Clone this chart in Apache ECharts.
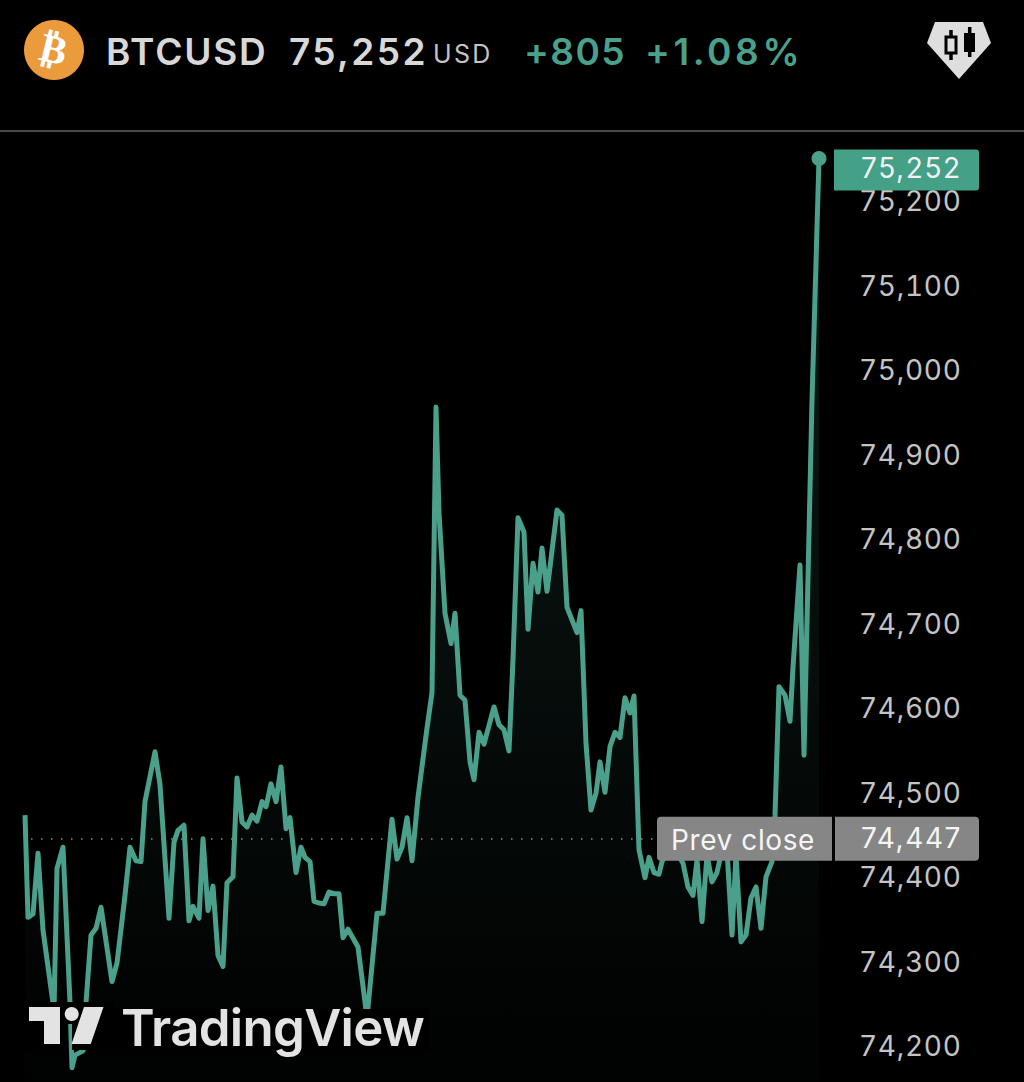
<!DOCTYPE html>
<html>
<head>
<meta charset="utf-8">
<style>html,body{margin:0;padding:0;background:#000}#c{width:1024px;height:1082px}#c svg text{letter-spacing:0.7px;font-feature-settings:"tnum" 1;font-variant-numeric:tabular-nums}</style>
<script src="https://cdn.jsdelivr.net/npm/echarts@6/dist/echarts.min.js"></script>
</head>
<body>
<div id="c"></div>
<script>
const symbol = 'BTCUSD';
const lastPrice = 75252;
const prevClose = 74447;
const lastText = '75,252';
const prevText = '74,447';
const changeAbs = '+805';
const changePct = '+1.08%';
const elapsed = [0,3,8,13,18,29,32,38,45,47,50,58,61,66,71,76,87,92,100,105,111,116,120,130,135,144,149,153,159,164,168,174,178,183,188,193,198,202,208,212,217,222,227,232,237,241,246,251,256,261,265,271,276,280,285,289,294,299,304,309,314,318,323,333,342,352,358,367,372,377,382,387,393,402,407,411,414,420,426,430,435,440,445,449,454,459,469,474,479,484,488,493,499,503,508,513,517,522,532,537,542,552,556,561,566,571,575,580,585,590,595,600,605,609,614,620,624,629,634,637,647,658,663,668,672,677,682,687,692,697,702,707,711,716,721,726,731,736,741,747,750,754,760,765,768,775,779,787,794];
const prices = [74475,74354,74358,74430,74339,74244,74412,74437,74253,74176,74191,74196,74253,74333,74341,74366,74278,74300,74380,74437,74421,74420,74491,74550,74511,74353,74443,74457,74463,74350,74367,74353,74447,74362,74391,74309,74296,74395,74402,74519,74467,74461,74475,74468,74491,74485,74512,74491,74532,74459,74472,74407,74437,74425,74420,74373,74371,74370,74384,74382,74382,74330,74340,74319,74235,74359,74359,74470,74423,74437,74472,74421,74496,74578,74620,74958,74833,74714,74678,74714,74617,74611,74538,74517,74573,74559,74603,74582,74576,74551,74659,74827,74810,74695,74773,74739,74791,74740,74836,74830,74721,74691,74717,74560,74481,74501,74538,74502,74556,74573,74567,74614,74596,74616,74434,74401,74425,74407,74405,74420,74443,74418,74390,74380,74422,74349,74428,74396,74407,74434,74434,74333,74428,74325,74333,74377,74390,74341,74402,74420,74475,74627,74617,74586,74650,74771,74546,74966,75252];

const UP = '#4aa08b';
const FONT = 'Inter, "Noto Sans", sans-serif';
const chart = echarts.init(document.getElementById('c'), null, {renderer:'svg', width:1024, height:1082});

chart.setOption({
  backgroundColor:'#000',
  animation:false,
  grid:{left:25, right:205, top:118, bottom:-50, outerBoundsMode:'none', containLabel:false},
  xAxis:{type:'value', min:0, max:794, show:false},
  yAxis:{
    type:'value', position:'right', min:74100, max:75300, interval:100,
    axisLine:{show:false}, axisTick:{show:false}, splitLine:{show:false},
    axisLabel:{
      show:true, showMaxLabel:false, showMinLabel:false, inside:false, margin:40, align:'left',
      color:'#c4c4c4', fontFamily:FONT, fontSize:28, fontWeight:400,
      formatter:v=>v.toLocaleString('en-US')
    }
  },
  series:[{
    type:'line',
    data:elapsed.map((t,i)=>[t,prices[i]]),
    showSymbol:false, symbol:'none', clip:false, smooth:false,
    lineStyle:{color:UP, width:5, join:'round'},
    areaStyle:{color:new echarts.graphic.LinearGradient(0,0,0,1,[
      {offset:0,color:'rgba(74,160,139,0.24)'},
      {offset:1,color:'rgba(74,160,139,0)'}
    ])},
    markLine:{
      silent:true, symbol:'none', z:1, animation:false, label:{show:false},
      lineStyle:{type:[1.5,8.5], color:'#8a8a8a', width:1.5},
      data:[[{coord:[6,prevClose]},{coord:[632,prevClose]}]]
    },
    markPoint:{
      silent:true, symbol:'circle', symbolSize:15, animation:false,
      itemStyle:{color:UP}, label:{show:false},
      data:[{coord:[794,lastPrice]}]
    }
  }]
});

const yLast = chart.convertToPixel({yAxisIndex:0}, lastPrice);
const yPrev = chart.convertToPixel({yAxisIndex:0}, prevClose);

const txt = (x,y,text,size,color,weight) => ({
  type:'text', x, y, z:110,
  style:{text, fill:color, font:`${weight} ${size}px ${FONT}`, textAlign:'left', textVerticalAlign:'middle'}
});
const black = (x,y,w,h)=>({type:'rect', z:100, shape:{x,y,width:w,height:h}, style:{fill:'#000'}});
const LOGO = '#e3e3e3';

chart.setOption({graphic:{elements:[
  {type:'line', z:100, shape:{x1:0,y1:131,x2:1024,y2:131}, style:{stroke:'#4a4a4a', lineWidth:2}},
  {type:'circle', z:100, shape:{cx:54,cy:50,r:30}, style:{fill:'#ec9b3c'}},
  {type:'text', z:110, x:54, y:49, rotation:-0.24,
    style:{text:'\u20bf', fill:'#fff', font:'bold 40px "DejaVu Sans"', textAlign:'center', textVerticalAlign:'middle'}},
  txt(106,51,symbol,37,'#d8d8d8',600),
  txt(289,51,lastText,37,'#d8d8d8',600),
  txt(433,54,'USD',25,'#c4c4c4',400),
  txt(524,51,changeAbs,37,UP,600),
  txt(645,51,changePct,37,UP,600),
  {type:'polygon', z:100, shape:{points:[[935,22],[983,22],[991,43],[959,79],[927,43]]}, style:{fill:'#dedede'}},
  {type:'line', z:101, shape:{x1:951,y1:30,x2:951,y2:60}, style:{stroke:'#000',lineWidth:3.5}},
  {type:'rect', z:102, shape:{x:946,y:37,width:10,height:16}, style:{fill:'#dedede',stroke:'#000',lineWidth:3}},
  {type:'line', z:101, shape:{x1:969.7,y1:27,x2:969.7,y2:57}, style:{stroke:'#000',lineWidth:3.5}},
  {type:'rect', z:102, shape:{x:964,y:33,width:11,height:19}, style:{fill:'#000'}},
  {type:'rect', z:100, shape:{x:834,y:yLast-9,width:145,height:41,r:[0,3,3,0]}, style:{fill:'#44a086'}},
  txt(861,yLast+9.5,lastText,28,'#f2f2f2',400),
  {type:'rect', z:100, shape:{x:657,y:yPrev-22,width:175,height:44,r:[4,0,0,4]}, style:{fill:'#868686'}},
  {type:'rect', z:100, shape:{x:835,y:yPrev-22,width:144,height:44,r:[0,4,4,0]}, style:{fill:'#868686'}},
  txt(671,yPrev+1,'Prev close',28,'#f5f5f5',400),
  txt(861,yPrev-1,prevText,28,'#f5f5f5',400),
  black(25,1002,43,48), black(68,1002,4,22), black(72,1002,43,48), black(115,1009,315,41),
  {type:'polygon', z:105, shape:{points:[[29,1007],[60,1007],[60,1044],[44,1044],[44,1021],[29,1021]]}, style:{fill:LOGO}},
  {type:'circle', z:105, shape:{cx:71.7,cy:1014,r:7}, style:{fill:LOGO}},
  {type:'polygon', z:105, shape:{points:[[84,1007],[103.5,1007],[90.7,1044],[71.5,1044]]}, style:{fill:LOGO}},
  txt(121,1027,'TradingView',51,LOGO,600)
]}});

const spacing = {'TradingView':'-0.7px','+1.08%':'3.6px','+805':'1.4px','USD':'2.3px','BTCUSD':'1.8px','Prev close':'0.6px'};
spacing[prevText]='1.6px';
const applySpacing = () => document.querySelectorAll('#c svg text').forEach(t=>{
  const k=t.textContent.trim();
  if(spacing[k]) t.style.letterSpacing=spacing[k];
  const s=t.getAttribute('style')||'';
  if(k===lastText) t.style.letterSpacing = s.indexOf('37px')>=0 ? '2.4px' : '1.6px';
  // axis tick labels sit slightly above their tick in the reference
  if(/^7\d,\d00$/.test(k)) t.setAttribute('dy','-1.5');
});
applySpacing();
chart.on('finished',applySpacing);
</script>
</body>
</html>
